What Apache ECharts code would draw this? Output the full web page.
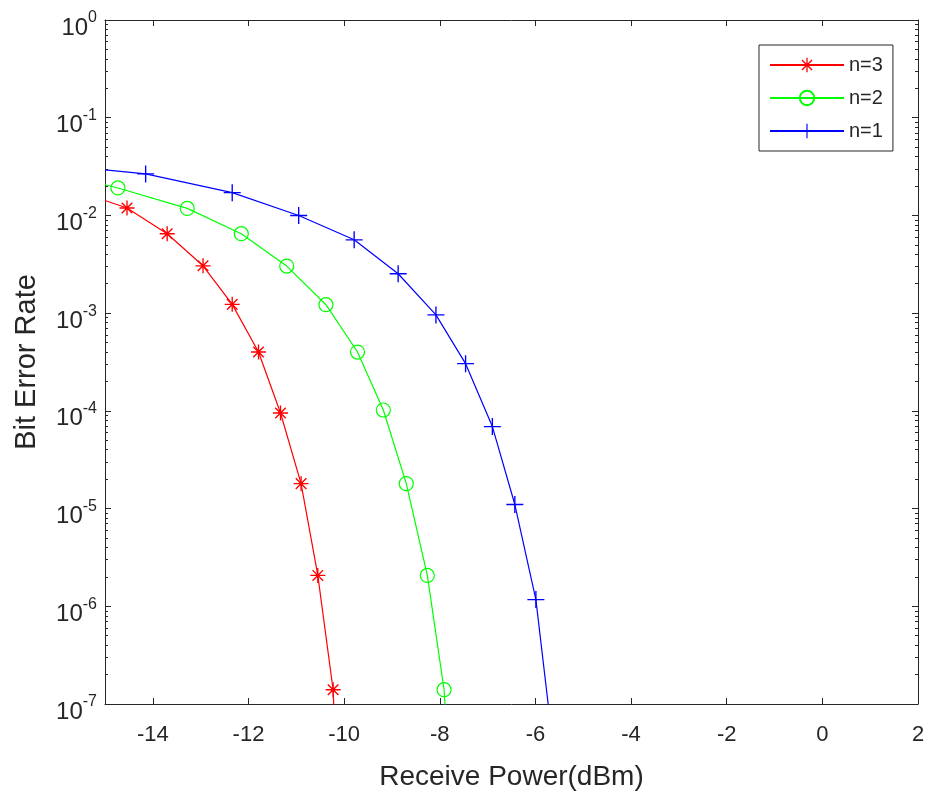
<!DOCTYPE html>
<html><head><meta charset="utf-8">
<script src="https://cdn.jsdelivr.net/npm/echarts@6/dist/echarts.min.js"></script>
<style>html,body{margin:0;padding:0;background:#fff}#c{width:931px;height:796px}</style>
</head><body><div id="c"></div>
<script>
// ---- data ----
const xTicks = [-14, -12, -10, -8, -6, -4, -2, 0, 2];
const yDecades = [-7, -6, -5, -4, -3, -2, -1, 0];
const minorMantissa = [2, 3, 4, 5, 6, 7, 8, 9];
const seriesNames = ['n=3', 'n=2', 'n=1'];

const redX = [-15, -14.54, -13.70, -12.95, -12.34, -11.79, -11.33, -10.90, -10.55, -10.23, -10.21];
const redY = [0.0142, 0.0119, 0.0065, 0.00305, 0.00123, 4.0e-4, 9.5e-5, 1.8e-5, 2.07e-6, 1.4e-7, 8e-8];

const greenX = [-15, -14.73, -13.28, -12.15, -11.20, -10.38, -9.72, -9.18, -8.70, -8.26, -7.91, -7.88];
const greenY = [0.0206, 0.0191, 0.0118, 0.0065, 0.00303, 0.00122, 4.0e-4, 1.02e-4, 1.8e-5, 2.07e-6, 1.4e-7, 8e-8];

const blueX = [-15, -14.15, -12.34, -10.95, -9.79, -8.87, -8.08, -7.46, -6.90, -6.43, -5.99, -5.71];
const blueY = [0.0292, 0.0266, 0.0171, 0.00998, 0.00563, 0.00253, 9.6e-4, 3.04e-4, 6.9e-5, 1.1e-5, 1.17e-6, 8e-8];

// ---- build ----
const FONT = '"Liberation Sans", Arial, Helvetica, sans-serif';
const INK = '#262626';
const minorLog = [];
yDecades.slice(0, -1).forEach(d => minorMantissa.forEach(m => minorLog.push(d + Math.log10(m))));

function build(xs, ys) {
  return xs.map((x, i) => {
    const item = { value: [x, ys[i]] };
    if (i === 0 || i === xs.length - 1) item.symbol = 'none';
    return item;
  });
}

const starPath = 'path://M-0.9,-10 L0.9,-10 L0.9,10 L-0.9,10 Z M-10,-0.9 L10,-0.9 L10,0.9 L-10,0.9 Z ' +
  'M-7.7,-6.4 L-6.4,-7.7 L7.7,6.4 L6.4,7.7 Z M-7.7,6.4 L6.4,-7.7 L7.7,-6.4 L-6.4,7.7 Z';
const plusPath = 'path://M-0.8,-10 L0.8,-10 L0.8,10 L-0.8,10 Z M-10,-0.8 L10,-0.8 L10,0.8 L-10,0.8 Z';

const axisLineOn = { show: true, onZero: false, lineStyle: { color: INK, width: 1 } };
const axisLineOff = { show: false, onZero: false };

const chart = echarts.init(document.getElementById('c'));
chart.setOption({
  animation: false,
  backgroundColor: '#fff',
  grid: { left: 105, right: 13, top: 20, bottom: 91, containLabel: false },
  legend: {
    data: seriesNames,
    orient: 'vertical',
    left: 759, top: 45,
    padding: [10, 10, 10, 10],
    itemWidth: 74, itemHeight: 18, itemGap: 13,
    borderColor: INK, borderWidth: 1,
    backgroundColor: '#fff',
    textStyle: { fontFamily: FONT, fontSize: 20, color: INK }
  },
  xAxis: [
    {
      type: 'value', min: -15, max: 2, position: 'bottom',
      name: 'Receive Power(dBm)', nameLocation: 'middle', nameGap: 59,
      nameTextStyle: { fontFamily: FONT, fontSize: 28, color: INK },
      axisLine: axisLineOn, splitLine: { show: false },
      axisTick: { show: true, inside: true, length: 6, customValues: xTicks, lineStyle: { color: INK } },
      axisLabel: { show: true, customValues: xTicks, margin: 20, fontFamily: FONT, fontSize: 22, color: INK }
    },
    {
      type: 'value', min: -15, max: 2, position: 'top',
      axisLine: axisLineOn, splitLine: { show: false },
      axisTick: { show: true, inside: true, length: 6, customValues: xTicks, lineStyle: { color: INK } },
      axisLabel: { show: false }
    }
  ],
  yAxis: [
    {
      type: 'log', logBase: 10, min: 1e-7, max: 1, splitNumber: 7, position: 'left',
      name: 'Bit Error Rate', nameLocation: 'middle', nameGap: 64, nameRotate: 90,
      nameTextStyle: { fontFamily: FONT, fontSize: 29, color: INK },
      axisLine: axisLineOn, splitLine: { show: false },
      axisTick: { show: true, inside: true, length: 6, lineStyle: { color: INK } },
      axisLabel: {
        margin: 8, fontFamily: FONT, color: INK,
        formatter: v => '{b|10}{s|' + Math.round(Math.log10(v)) + '}',
        rich: {
          b: { fontFamily: FONT, fontSize: 24, color: INK, verticalAlign: 'bottom', padding: [16, 0, 0, 0] },
          s: { fontFamily: FONT, fontSize: 16, color: INK, verticalAlign: 'top', padding: [10, 0, 0, 0] }
        }
      }
    },
    {
      type: 'value', min: -7, max: 0, position: 'left',
      axisLine: axisLineOff, splitLine: { show: false },
      axisTick: { show: true, inside: true, length: 3, customValues: minorLog, lineStyle: { color: INK } },
      axisLabel: { show: false }
    },
    {
      type: 'value', min: -7, max: 0, position: 'right',
      axisLine: axisLineOn, splitLine: { show: false },
      axisTick: { show: true, inside: true, length: 6, customValues: yDecades, lineStyle: { color: INK } },
      axisLabel: { show: false }
    },
    {
      type: 'value', min: -7, max: 0, position: 'right',
      axisLine: axisLineOff, splitLine: { show: false },
      axisTick: { show: true, inside: true, length: 3, customValues: minorLog, lineStyle: { color: INK } },
      axisLabel: { show: false }
    }
  ],
  series: [
    {
      name: seriesNames[0], type: 'line', xAxisIndex: 0, yAxisIndex: 0,
      data: build(redX, redY), color: '#ff0000',
      symbol: starPath, symbolSize: 15, showAllSymbol: true,
      lineStyle: { color: '#ff0000', width: 1.2 },
      itemStyle: { color: '#ff0000' }
    },
    {
      name: seriesNames[1], type: 'line', xAxisIndex: 0, yAxisIndex: 0,
      data: build(greenX, greenY), color: '#00ff00',
      symbol: 'circle', symbolSize: 14, showAllSymbol: true,
      lineStyle: { color: '#00ff00', width: 1.2 },
      itemStyle: { color: 'rgba(0,0,0,0)', borderColor: '#00ff00', borderWidth: 1.2 }
    },
    {
      name: seriesNames[2], type: 'line', xAxisIndex: 0, yAxisIndex: 0,
      data: build(blueX, blueY), color: '#0000ff',
      symbol: plusPath, symbolSize: 17, showAllSymbol: true,
      lineStyle: { color: '#0000ff', width: 1.2 },
      itemStyle: { color: '#0000ff' }
    }
  ]
});
</script></body></html>
